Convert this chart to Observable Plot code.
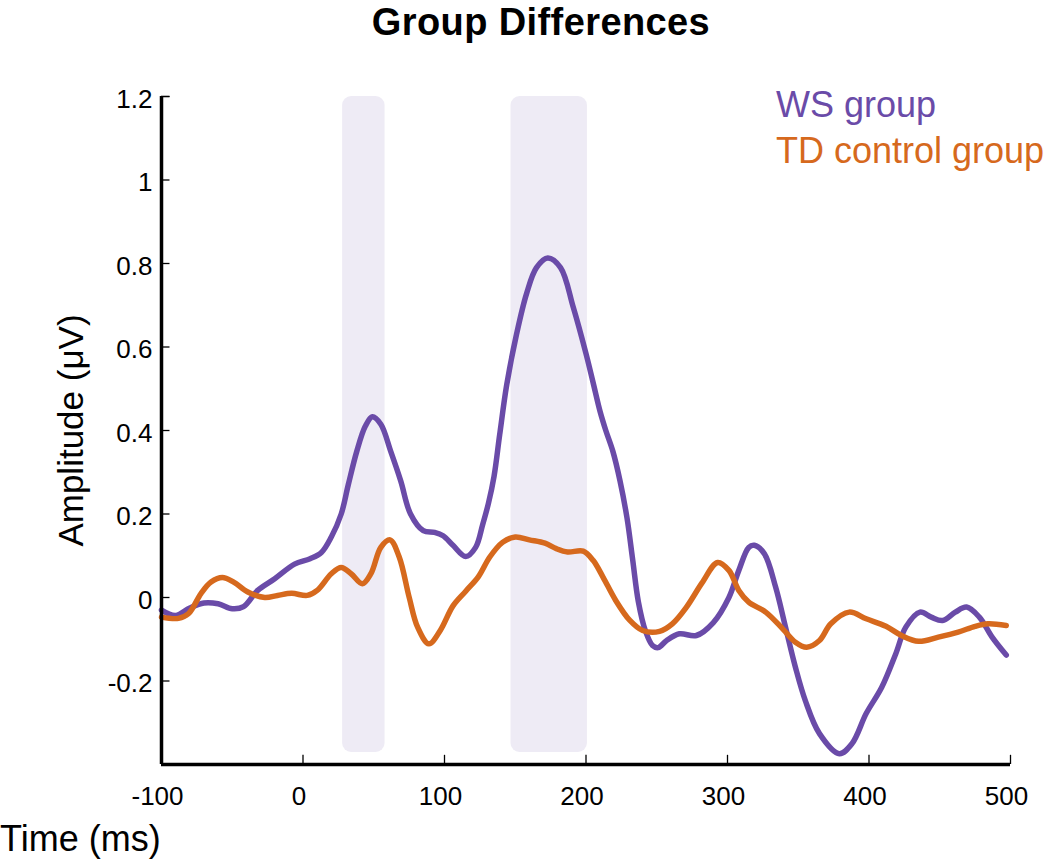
<!DOCTYPE html>
<html><head><meta charset="utf-8">
<script src="https://cdn.jsdelivr.net/npm/d3@7"></script>
<script src="https://cdn.jsdelivr.net/npm/@observablehq/plot@0.6"></script>
<style>
body{margin:0;background:#fff;font-family:"Liberation Sans",Arial,sans-serif;}
#wrap{position:relative;width:1050px;height:868px;overflow:hidden;}
#title{position:absolute;top:0;left:16px;width:1050px;text-align:center;font-weight:bold;font-size:38px;line-height:44px;letter-spacing:0.4px;}
#chart{position:absolute;top:50px;left:0;}
.leg{position:absolute;left:776px;font-size:36px;line-height:36px;white-space:nowrap;}
#xlabel{position:absolute;left:0;top:821px;font-size:36px;line-height:36px;white-space:nowrap;}
</style></head><body>
<div id="wrap"><div id="chart"></div><div id="title">Group Differences</div><div id="legend"></div><div id="xlabel">Time (ms)</div></div>
<script>
const seriesNames = ["WS group", "TD control group"];
const seriesColors = ["#6A4BA8", "#D6691D"];
const xTicks = [-100, 0, 100, 200, 300, 400, 500];
const yTicks = [-0.2, 0, 0.2, 0.4, 0.6, 0.8, 1, 1.2];
const yTickLabels = ["-0.2", "0", "0.2", "0.4", "0.6", "0.8", "1", "1.2"];
const sigStart = [28, 147];
const sigEnd = [58, 201];

const wsTime = [-100,-90,-80,-70,-60,-50,-42,-32,-20,-6,5,13,20,27,32,38,44,49,55,62,69,76,85,93,99,106,115,122,127,131,135,139,144,151,158,165,173,182,191,200,205,210,214,219,224,229,233,237,242,247,251,257,266,278,290,301,308,315,319,326,334,341,348,355,365,379,388,398,409,419,426,436,444,452,461,469,478,487,497];
const wsAmp = [-0.03,-0.043,-0.025,-0.013,-0.015,-0.027,-0.022,0.017,0.045,0.08,0.093,0.108,0.145,0.2,0.27,0.35,0.41,0.433,0.415,0.35,0.28,0.2,0.16,0.156,0.148,0.125,0.098,0.12,0.175,0.225,0.29,0.39,0.51,0.632,0.728,0.79,0.813,0.79,0.695,0.584,0.515,0.445,0.40,0.35,0.28,0.19,0.09,-0.01,-0.08,-0.115,-0.12,-0.103,-0.087,-0.091,-0.06,0.0,0.065,0.12,0.125,0.105,0.025,-0.071,-0.167,-0.247,-0.326,-0.374,-0.35,-0.278,-0.215,-0.134,-0.071,-0.035,-0.047,-0.055,-0.035,-0.023,-0.047,-0.095,-0.138];

const tdTime = [-100,-88,-81,-72,-65,-57,-49,-39,-27,-18,-8,3,10,20,27,34,42,48,55,61.5,68,75,81,89,97,106,115,124,132,141,150,160,171,179,187,198,205,212,221,231,240,252,261,271,282,293,301,308,315,327,339,348,356,365,373,386,398,412,423,435,449,463,475,484,497];
const tdAmp = [-0.047,-0.05,-0.039,0.01,0.037,0.048,0.037,0.013,0.0,0.005,0.01,0.005,0.017,0.057,0.072,0.057,0.033,0.057,0.12,0.138,0.097,0.001,-0.071,-0.111,-0.079,-0.02,0.015,0.05,0.097,0.132,0.145,0.138,0.13,0.117,0.109,0.111,0.089,0.049,-0.007,-0.055,-0.079,-0.081,-0.063,-0.023,0.035,0.084,0.065,0.017,-0.011,-0.035,-0.075,-0.107,-0.119,-0.103,-0.063,-0.035,-0.051,-0.069,-0.091,-0.105,-0.095,-0.083,-0.069,-0.063,-0.067];

const ws = wsTime.map((t, i) => ({t, v: wsAmp[i]}));
const td = tdTime.map((t, i) => ({t, v: tdAmp[i]}));
const regions = sigStart.map((s, i) => ({s, e: sigEnd[i]}));

const xMin = -100, xMax = 500, yMin = -0.4, yMax = 1.2;
const font = "Liberation Sans, Arial, sans-serif";

const plot = Plot.plot({
  width: 1050,
  height: 818,
  marginTop: 46,
  marginBottom: 104,
  marginLeft: 161,
  marginRight: 40,
  style: {fontFamily: font, background: "#fff", color: "#000", overflow: "visible"},
  x: {domain: [xMin, xMax]},
  y: {domain: [yMin, yMax]},
  marks: [
    Plot.rect(regions, {x1: "s", x2: "e", y1: -0.371, y2: yMax, fill: "#EEEBF5", rx: 9}),
    Plot.line(ws, {x: "t", y: "v", stroke: seriesColors[0], strokeWidth: 5.5, curve: "catmull-rom"}),
    Plot.line(td, {x: "t", y: "v", stroke: seriesColors[1], strokeWidth: 5.5, curve: "catmull-rom"}),
    Plot.ruleY(yTicks.concat([yMax]), {x1: xMin, x2: xMin + 6, stroke: "#000", strokeWidth: 1.3}),
    Plot.ruleX(xTicks, {y1: yMin, y2: yMin + 0.022, stroke: "#000", strokeWidth: 1.3}),
    Plot.ruleX([xMin], {y1: yMin, y2: yMax, stroke: "#000", strokeWidth: 3.5}),
    Plot.ruleY([yMin], {x1: xMin, x2: xMax, stroke: "#000", strokeWidth: 3.5}),
    Plot.axisX({ticks: xTicks, tickSize: 0, tickPadding: 22, fontSize: 26, dx: -4, tickFormat: d => String(d), label: null}),
    Plot.axisY({ticks: yTicks, tickSize: 0, tickPadding: 9, fontSize: 26, dy: 3, tickFormat: d => yTickLabels[yTicks.indexOf(d)], label: null}),
    Plot.text(["Amplitude (μV)"], {frameAnchor: "left", rotate: -90, dx: -90, fontSize: 35, fill: "#000", textAnchor: "middle"})
  ]
});
document.getElementById("chart").appendChild(plot);

const leg = document.getElementById("legend");
const legTops = [87, 133];
seriesNames.forEach((n, i) => {
  const d = document.createElement("div");
  d.className = "leg";
  d.style.top = legTops[i] + "px";
  d.style.color = seriesColors[i];
  d.textContent = n;
  leg.appendChild(d);
});
</script>
</body></html>
